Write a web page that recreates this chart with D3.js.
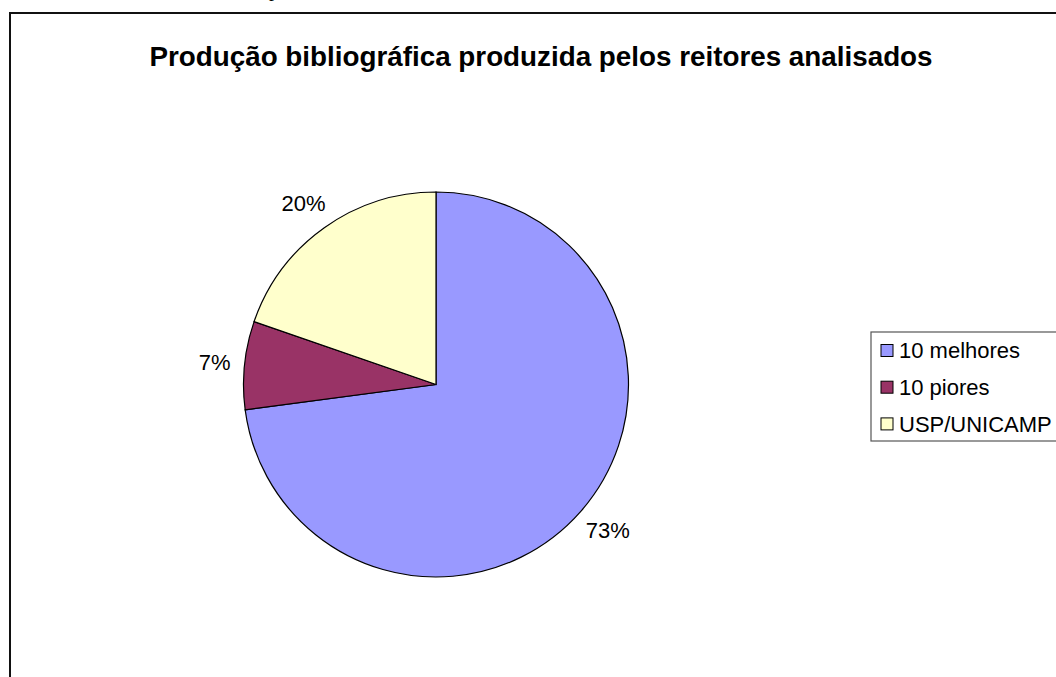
<!DOCTYPE html>
<html><head><meta charset="utf-8">
<script src="https://cdn.jsdelivr.net/npm/d3@7"></script>
<style>body{margin:0;background:#fff}svg{display:block}</style>
</head><body>
<svg id="c" width="1056" height="677"></svg>
<script>
const categories = ["10 melhores", "10 piores", "USP/UNICAMP"];
const values = [72.9, 7.4, 19.7];
const labels = ["73%", "7%", "20%"];
const colors = ["#9999FF", "#993366", "#FFFFCC"];
const title = "Produção bibliográfica produzida pelos reitores analisados";

const svg = d3.select("#c");
const font = "Liberation Sans, Arial, sans-serif";

// fragment of document text above the chart
svg.append("text").attr("x", 269).attr("y", -4).attr("font-family", "Liberation Serif, serif")
  .attr("font-size", 20).text("p");

// chart border
svg.append("rect").attr("x", 10).attr("y", 13).attr("width", 1100).attr("height", 700)
  .attr("fill", "#fff").attr("stroke", "#111").attr("stroke-width", 2);

svg.append("text").attr("x", 541).attr("y", 66).attr("text-anchor", "middle")
  .attr("font-family", font).attr("font-weight", "bold").attr("font-size", 27.8).text(title);

const cx = 436, cy = 384.5, r = 192.5;
const data = categories.map((c, i) => ({c, v: values[i], l: labels[i], col: colors[i]}));
const pie = d3.pie().value(d => d.v).sort(null);
const arcs = pie(data);
const arc = d3.arc().innerRadius(0).outerRadius(r);
const g = svg.append("g").attr("transform", `translate(${cx},${cy})`);
g.selectAll("path").data(arcs).join("path").attr("d", arc)
  .attr("fill", d => d.data.col).attr("stroke", "#000").attr("stroke-width", 1.2);

const lblFont = 22;
const labelArc = d3.arc().innerRadius(r + 14).outerRadius(r + 14);
const lbls = g.selectAll("text.lbl").data(arcs).join("text").attr("class", "lbl")
  .attr("text-anchor", "middle").attr("dy", "0.35em")
  .attr("font-family", font).attr("font-size", lblFont).text(d => d.data.l);
lbls.each(function(d) {
  const w = this.getComputedTextLength();
  const h = lblFont * 1.4;
  const a = (d.startAngle + d.endAngle) / 2;
  const [x, y] = labelArc.centroid(d);
  d3.select(this).attr("x", x + Math.sin(a) * w / 2).attr("y", y - Math.cos(a) * h / 2);
});

// legend
const lg = svg.append("g").attr("transform", "translate(871,332)");
lg.append("rect").attr("x", 0).attr("y", 0).attr("width", 300).attr("height", 109)
  .attr("fill", "#fff").attr("stroke", "#555").attr("stroke-width", 1.2);
const items = lg.selectAll("g.it").data(data).join("g").attr("class", "it")
  .attr("transform", (d, i) => `translate(0,${18.5 + i * 36.7})`);
items.append("rect").attr("x", 10).attr("y", -6).attr("width", 12).attr("height", 12)
  .attr("fill", d => d.col).attr("stroke", "#000").attr("stroke-width", 1);
items.append("text").attr("x", 28).attr("y", 0).attr("dy", "0.36em")
  .attr("font-family", font).attr("font-size", 22).text(d => d.c);
</script>
</body></html>
